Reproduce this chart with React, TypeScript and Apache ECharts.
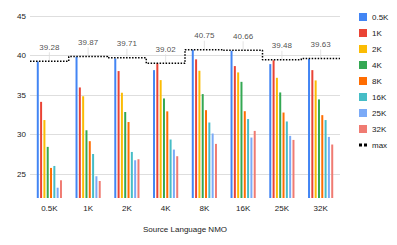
import React, { useEffect, useRef } from "react";
import * as echarts from "echarts";

const categories = ["0.5K", "1K", "2K", "4K", "8K", "16K", "25K", "32K"];
const seriesNames = ["0.5K", "1K", "2K", "4K", "8K", "16K", "25K", "32K"];
const colors = ["#4285F4", "#EA4335", "#FBBC04", "#34A853", "#FF6D01", "#46BDC6", "#7BAAF7", "#F07B72"];

const s05K = [39.25, 39.85, 39.64, 38.16, 40.72, 40.6, 38.92, 39.58];
const s1K = [34.15, 35.97, 38.04, 39.02, 39.52, 38.67, 39.4, 38.16];
const s2K = [31.85, 34.87, 35.3, 36.9, 38.08, 37.87, 37.19, 36.86];
const s4K = [28.46, 30.57, 32.88, 34.58, 35.13, 36.68, 35.34, 34.46];
const s8K = [25.8, 29.18, 31.6, 32.95, 33.1, 32.97, 32.8, 32.47];
const s16K = [26.05, 27.57, 27.82, 29.39, 31.54, 31.98, 31.67, 31.85];
const s25K = [23.3, 24.75, 26.77, 28.12, 30.15, 29.64, 29.85, 29.72];
const s32K = [24.24, 24.15, 26.9, 27.28, 28.84, 30.48, 29.34, 28.76];
const maxValues = [39.28, 39.87, 39.71, 39.02, 40.75, 40.66, 39.48, 39.63];

const barData = [s05K, s1K, s2K, s4K, s8K, s16K, s25K, s32K];

const FONT = "'Liberation Sans', Arial, sans-serif";
const TXT = "#1a1a1a";

export default function App() {
  const ref = useRef<HTMLDivElement>(null);
  useEffect(() => {
    if (!ref.current) return;
    document.body.style.margin = "0";
    const chart = echarts.init(ref.current, undefined, { renderer: "svg" });
    const stepData: number[][] = maxValues.map((v, i) => [i, v]);
    stepData.push([maxValues.length, maxValues[maxValues.length - 1]]);
    const bars = barData.map((d, i) => ({
      name: seriesNames[i],
      type: "bar",
      data: d,
      itemStyle: { color: colors[i] },
      barCategoryGap: "35%",
      barGap: "66%",
      xAxisIndex: 0,
    }));
    chart.setOption({
      animation: false,
      textStyle: { fontFamily: FONT },
      grid: { left: 30, right: 57, top: 16, bottom: 47, containLabel: false },
      legend: {
        orient: "vertical",
        left: 354,
        top: 8,
        itemWidth: 8,
        itemHeight: 8,
        itemGap: 8,
        textStyle: { fontSize: 8, color: TXT, fontFamily: FONT },
        data: [
          ...seriesNames.map((n) => ({ name: n, icon: "rect" })),
          { name: "max", icon: "path://M0 0H3V3H0Z M5 0H8V3H5Z", itemStyle: { color: "#000" } },
        ],
      },
      xAxis: [
        {
          type: "category",
          data: categories,
          axisLine: { show: false },
          axisTick: { show: false },
          axisLabel: { fontSize: 8, color: TXT, margin: 6, fontFamily: FONT },
          name: "Source Language NMO",
          nameLocation: "middle",
          nameGap: 27,
          nameTextStyle: { fontSize: 8, color: TXT, fontFamily: FONT },
        },
        { type: "value", min: 0, max: 8, show: false },
      ],
      yAxis: {
        type: "value",
        min: 22,
        max: 45,
        splitNumber: 5,
        axisLine: { show: false },
        axisTick: { show: false },
        axisLabel: {
          fontSize: 8,
          color: TXT,
          margin: 4,
          fontFamily: FONT,
          formatter: (v: number) => (v % 5 === 0 ? String(v) : ""),
        },
        splitLine: { lineStyle: { color: "#dedede", width: 1 }, showMinLine: false },
      },
      series: [
        ...bars,
        {
          name: "max",
          type: "line",
          xAxisIndex: 1,
          step: "end",
          data: stepData,
          symbol: "none",
          lineStyle: { color: "#000", width: 1.5, type: [1.5, 1.5] },
          z: 5,
        },
        {
          name: "maxLabel",
          type: "scatter",
          xAxisIndex: 0,
          data: maxValues,
          symbol: "rect",
          symbolSize: [1, 9],
          symbolOffset: [0, -4.5],
          itemStyle: { color: "#dcdcdc" },
          label: {
            show: true,
            position: "top",
            distance: 1,
            fontSize: 8,
            color: TXT,
            fontFamily: FONT,
            formatter: (p: any) => p.value.toFixed(2),
          },
          z: 4,
        },
      ],
    });
    return () => chart.dispose();
  }, []);
  return <div ref={ref} style={{ width: 397, height: 245 }} />;
}
